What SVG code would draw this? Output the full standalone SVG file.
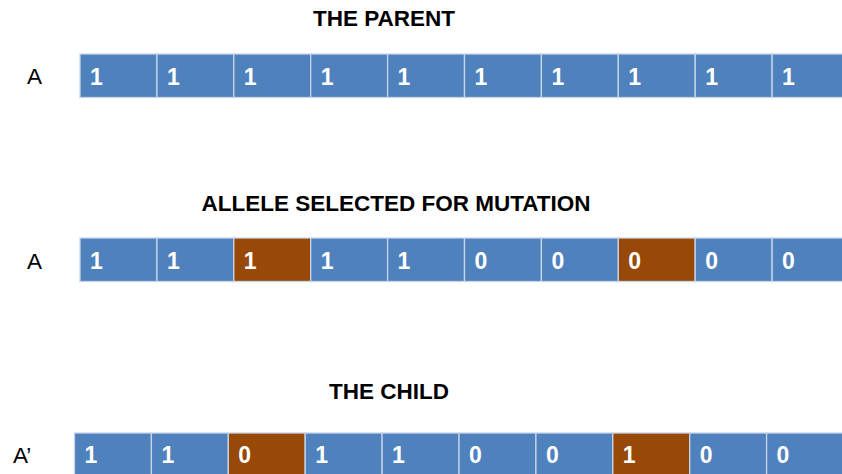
<svg xmlns="http://www.w3.org/2000/svg" width="842" height="474" viewBox="0 0 842 474">
  <style>
    .title { font-family: "Liberation Sans", Arial, sans-serif; font-weight: bold; font-size: 22.5px; fill: #000; text-anchor: middle; }
    .label { font-family: "Liberation Sans", Arial, sans-serif; font-size: 22.5px; fill: #000; }
    .bit { font-family: "Liberation Sans", Arial, sans-serif; font-weight: bold; font-size: 23px; fill: #fff; }
    .gene { fill: #4f81bd; stroke: #c6d5ea; stroke-width: 1.3; }
    .mut { fill: #984807; stroke: #c6d5ea; stroke-width: 1.3; }
  </style>
  <rect width="842" height="474" fill="#fff"/>

  <!-- Parent chromosome -->
  <text class="title" x="384" y="26">THE PARENT</text>
  <text class="label" x="27" y="84">A</text>
  <g id="parent">
    <g id="p0"><rect class="gene" x="80" y="54" width="76.9" height="43.5"/><text class="bit" x="90" y="85">1</text></g>
    <g id="p1"><rect class="gene" x="156.9" y="54" width="76.9" height="43.5"/><text class="bit" x="166.9" y="85">1</text></g>
    <g id="p2"><rect class="gene" x="233.8" y="54" width="76.9" height="43.5"/><text class="bit" x="243.8" y="85">1</text></g>
    <g id="p3"><rect class="gene" x="310.7" y="54" width="76.9" height="43.5"/><text class="bit" x="320.7" y="85">1</text></g>
    <g id="p4"><rect class="gene" x="387.6" y="54" width="76.9" height="43.5"/><text class="bit" x="397.6" y="85">1</text></g>
    <g id="p5"><rect class="gene" x="464.5" y="54" width="76.9" height="43.5"/><text class="bit" x="474.5" y="85">1</text></g>
    <g id="p6"><rect class="gene" x="541.4" y="54" width="76.9" height="43.5"/><text class="bit" x="551.4" y="85">1</text></g>
    <g id="p7"><rect class="gene" x="618.3" y="54" width="76.9" height="43.5"/><text class="bit" x="628.3" y="85">1</text></g>
    <g id="p8"><rect class="gene" x="695.2" y="54" width="76.9" height="43.5"/><text class="bit" x="705.2" y="85">1</text></g>
    <g id="p9"><rect class="gene" x="772.1" y="54" width="76.9" height="43.5"/><text class="bit" x="782.1" y="85">1</text></g>
  </g>

  <!-- Alleles chosen for mutation -->
  <text class="title" x="396" y="211">ALLELE SELECTED FOR MUTATION</text>
  <text class="label" x="27" y="269">A</text>
  <g id="selected">
    <g id="s0"><rect class="gene" x="80" y="238" width="76.9" height="43.5"/><text class="bit" x="90" y="269">1</text></g>
    <g id="s1"><rect class="gene" x="156.9" y="238" width="76.9" height="43.5"/><text class="bit" x="166.9" y="269">1</text></g>
    <g id="s2"><rect class="mut" x="233.8" y="238" width="76.9" height="43.5"/><text class="bit" x="243.8" y="269">1</text></g>
    <g id="s3"><rect class="gene" x="310.7" y="238" width="76.9" height="43.5"/><text class="bit" x="320.7" y="269">1</text></g>
    <g id="s4"><rect class="gene" x="387.6" y="238" width="76.9" height="43.5"/><text class="bit" x="397.6" y="269">1</text></g>
    <g id="s5"><rect class="gene" x="464.5" y="238" width="76.9" height="43.5"/><text class="bit" x="474.5" y="269">0</text></g>
    <g id="s6"><rect class="gene" x="541.4" y="238" width="76.9" height="43.5"/><text class="bit" x="551.4" y="269">0</text></g>
    <g id="s7"><rect class="mut" x="618.3" y="238" width="76.9" height="43.5"/><text class="bit" x="628.3" y="269">0</text></g>
    <g id="s8"><rect class="gene" x="695.2" y="238" width="76.9" height="43.5"/><text class="bit" x="705.2" y="269">0</text></g>
    <g id="s9"><rect class="gene" x="772.1" y="238" width="76.9" height="43.5"/><text class="bit" x="782.1" y="269">0</text></g>
  </g>

  <!-- Mutated offspring -->
  <text class="title" x="389" y="399">THE CHILD</text>
  <text class="label" x="13" y="463">A’</text>
  <g id="child">
    <g id="c0"><rect class="gene" x="74.5" y="433" width="76.9" height="43.5"/><text class="bit" x="84.5" y="463">1</text></g>
    <g id="c1"><rect class="gene" x="151.4" y="433" width="76.9" height="43.5"/><text class="bit" x="161.4" y="463">1</text></g>
    <g id="c2"><rect class="mut" x="228.3" y="433" width="76.9" height="43.5"/><text class="bit" x="238.3" y="463">0</text></g>
    <g id="c3"><rect class="gene" x="305.2" y="433" width="76.9" height="43.5"/><text class="bit" x="315.2" y="463">1</text></g>
    <g id="c4"><rect class="gene" x="382.1" y="433" width="76.9" height="43.5"/><text class="bit" x="392.1" y="463">1</text></g>
    <g id="c5"><rect class="gene" x="459" y="433" width="76.9" height="43.5"/><text class="bit" x="469" y="463">0</text></g>
    <g id="c6"><rect class="gene" x="535.9" y="433" width="76.9" height="43.5"/><text class="bit" x="545.9" y="463">0</text></g>
    <g id="c7"><rect class="mut" x="612.8" y="433" width="76.9" height="43.5"/><text class="bit" x="622.8" y="463">1</text></g>
    <g id="c8"><rect class="gene" x="689.7" y="433" width="76.9" height="43.5"/><text class="bit" x="699.7" y="463">0</text></g>
    <g id="c9"><rect class="gene" x="766.6" y="433" width="76.9" height="43.5"/><text class="bit" x="776.6" y="463">0</text></g>
  </g>
</svg>
